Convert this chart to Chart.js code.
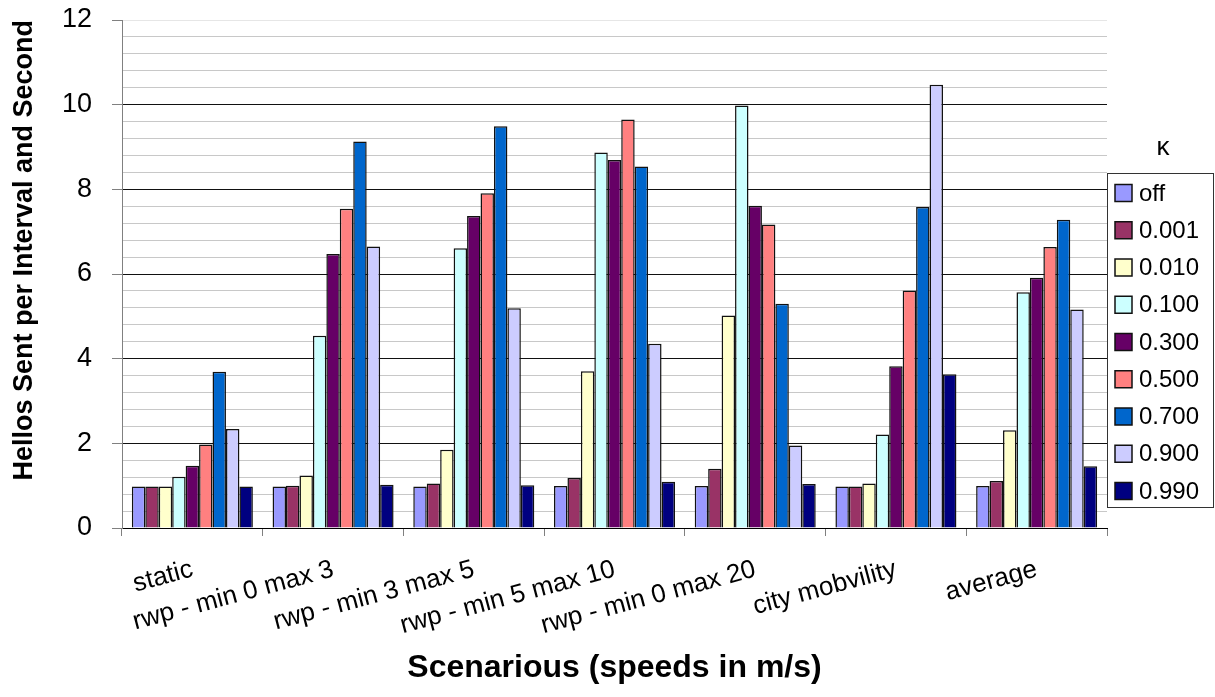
<!DOCTYPE html>
<html>
<head>
<meta charset="utf-8">
<script src="https://cdn.jsdelivr.net/npm/chart.js@4"></script>
<style>
  html, body { margin: 0; padding: 0; background: #fff; }
  #wrap { width: 1215px; height: 697px; }
</style>
</head>
<body>
<div id="wrap"><canvas id="chart" width="1215" height="697"></canvas></div>
<script>
// categories (scenarios)
const scenarios = ['static', 'rwp - min 0 max 3', 'rwp - min 3 max 5', 'rwp - min 5 max 10',
  'rwp - min 0 max 20', 'city mobvility', 'average'];

// kappa values, one series each
const kappaLabels = ['off', '0.001', '0.010', '0.100', '0.300', '0.500', '0.700', '0.900', '0.990'];
const kappaColors = ['#9999FF', '#993366', '#FFFFCC', '#CCFFFF', '#660066', '#FF8080', '#0066CC', '#CCCCFF', '#000080'];

// hellos sent per interval and second, per kappa
const kOff  = [0.98, 0.98, 0.98, 0.99, 0.99, 0.98, 0.99];
const k0001 = [0.98, 1.00, 1.05, 1.18, 1.40, 0.98, 1.11];
const k0010 = [0.98, 1.24, 1.85, 3.70, 5.02, 1.05, 2.31];
const k0100 = [1.21, 4.54, 6.61, 8.87, 9.98, 2.21, 5.57];
const k0300 = [1.47, 6.47, 7.37, 8.69, 7.61, 3.82, 5.91];
const k0500 = [1.97, 7.54, 7.91, 9.65, 7.17, 5.61, 6.64];
const k0700 = [3.69, 9.13, 9.49, 8.54, 5.30, 7.58, 7.28];
const k0900 = [2.34, 6.65, 5.19, 4.35, 1.95, 10.47, 5.16];
const k0990 = [0.98, 1.02, 1.01, 1.09, 1.04, 3.63, 1.46];
const seriesValues = [kOff, k0001, k0010, k0100, k0300, k0500, k0700, k0900, k0990];

const FONT = "'Liberation Sans', Arial, sans-serif";

const isMajor = v => Math.abs(v / 2 - Math.round(v / 2)) < 1e-6;

// legend drawn by hand so it sits where the original one does
const boxLegend = {
  id: 'boxLegend',
  afterDraw(chart) {
    const ctx = chart.ctx;
    ctx.save();
    ctx.fillStyle = '#000';
    ctx.font = '26px ' + FONT;
    ctx.textAlign = 'center';
    ctx.textBaseline = 'middle';
    ctx.fillText('\u03BA', 1163, 148);

    ctx.strokeStyle = '#333';
    ctx.lineWidth = 1;
    ctx.strokeRect(1107.5, 173.5, 106, 334);

    ctx.font = '24px ' + FONT;
    ctx.textAlign = 'left';
    chart.data.datasets.forEach((ds, i) => {
      const y = 193 + i * 37.25;
      ctx.fillStyle = ds.backgroundColor;
      ctx.fillRect(1115, y - 8.5, 17, 17);
      ctx.strokeStyle = '#111';
      ctx.lineWidth = 1.5;
      ctx.strokeRect(1115, y - 8.5, 17, 17);
      ctx.fillStyle = '#000';
      ctx.fillText(ds.label, 1139, y + 1);
    });
    ctx.restore();
  }
};

const datasets = kappaLabels.map((lbl, i) => ({
  label: lbl,
  data: seriesValues[i],
  backgroundColor: kappaColors[i],
  borderColor: '#111',
  borderWidth: 1.5,
  categoryPercentage: 0.86,
  barPercentage: 1.0
}));

new Chart(document.getElementById('chart'), {
  type: 'bar',
  data: { labels: scenarios, datasets: datasets },
  plugins: [boxLegend],
  options: {
    responsive: false,
    animation: false,
    layout: { padding: { top: 20, right: 108, left: 0, bottom: 0 } },
    plugins: {
      legend: { display: false },
      tooltip: { enabled: false }
    },
    scales: {
      x: {
        afterFit(scale) { scale.height = 169; },
        grid: {
          drawOnChartArea: false,
          color: '#808080',
          tickLength: 8
        },
        border: { color: '#000', width: 1 },
        ticks: {
          color: '#000',
          font: { family: FONT, size: 26 },
          minRotation: 15,
          maxRotation: 15,
          autoSkip: false,
          padding: 18
        },
        title: {
          display: true,
          text: 'Scenarious (speeds in m/s)',
          color: '#000',
          font: { family: FONT, size: 32, weight: 'bold' },
          padding: { top: 0, bottom: 10 }
        }
      },
      y: {
        min: 0,
        max: 12,
        afterFit(scale) {
          scale.width = 122;
          scale.paddingTop = 0;
          scale.paddingBottom = 0;
        },
        grid: {
          color: c => {
            const v = c.tick.value;
            if (v >= 12) return '#e6e6e6';
            return isMajor(v) ? '#111' : '#c8c8c8';
          },
          tickColor: c => isMajor(c.tick.value) ? '#808080' : 'rgba(0,0,0,0)',
          tickLength: 10,
          lineWidth: 1
        },
        border: { color: '#808080', width: 1 },
        ticks: {
          stepSize: 0.4,
          autoSkip: false,
          color: '#000',
          font: { family: FONT, size: 27 },
          padding: 20,
          callback: v => isMajor(v) ? String(Math.round(v)) : ''
        },
        title: {
          display: true,
          text: 'Hellos Sent per Interval and Second',
          color: '#000',
          align: 'end',
          font: { family: FONT, size: 27, weight: 'bold' },
          padding: { top: 8, bottom: 0 }
        }
      }
    }
  }
});
</script>
</body>
</html>
